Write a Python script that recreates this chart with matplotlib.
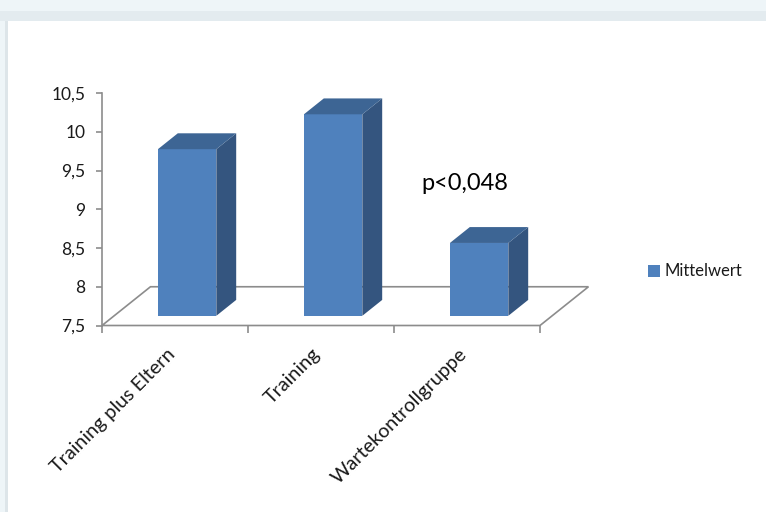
import matplotlib.pyplot as plt
from matplotlib.patches import Polygon, Rectangle

categories = ["Training plus Eltern", "Training", "Wartekontrollgruppe"]
values = [9.65, 10.1, 8.44]
yticks = [7.5, 8, 8.5, 9, 9.5, 10, 10.5]
ytick_labels = ["7,5", "8", "8,5", "9", "9,5", "10", "10,5"]
series_name = "Mittelwert"
note = "p<0,048"

plt.rcParams['font.family'] = ['Lato', 'DejaVu Sans']

W, H = 766, 512
fig = plt.figure(figsize=(W / 100, H / 100), dpi=100, facecolor="#eef5f8")

# light frame like the slide background
fig.patches.append(Rectangle((0, 1 - 21 / H), 1, 10 / H, transform=fig.transFigure,
                             facecolor="#e3ebef", edgecolor="none", zorder=-10))
fig.patches.append(Rectangle((5 / W, 0), 3 / W, 1 - 21 / H, transform=fig.transFigure,
                             facecolor="#dde5e9", edgecolor="none", zorder=-10))
fig.patches.append(Rectangle((8 / W, 0), 1, 1 - 21 / H, transform=fig.transFigure,
                             facecolor="white", edgecolor="none", zorder=-10))

# axes: x in category units (146 px each), y in value units
x0, x1 = 102, 102 + 146 * 3
y_top, y_bot = 93, 325.5
ax = fig.add_axes([x0 / W, 1 - y_bot / H, (x1 - x0) / W, (y_bot - y_top) / H])
ax.set_xlim(0, 3)
ax.set_ylim(7.5, 10.5)
ax.patch.set_alpha(0)

# depth vector of the floor (in data units)
ddx, ddy = 0.332, 0.5
f0, f1 = 0.25, 0.66
bw, off = 0.4, 0.3
base = 7.5
gray = "#8c8c8c"

# floor
floor = Polygon([(0, base), (3, base), (3 + ddx, base + ddy), (ddx, base + ddy)],
                closed=True, facecolor="none", edgecolor=gray, lw=1.2, clip_on=False, zorder=1)
ax.add_patch(floor)

front_c, side_c, top_c = "#4f81bd", "#34557f", "#3d6594"
for i, v in enumerate(values):
    xl = i + off
    xr = xl + bw
    b0 = base + f0 * ddy
    t0 = v + f0 * ddy
    sx0, sx1 = f0 * ddx, f1 * ddx
    sy = (f1 - f0) * ddy
    # front face
    ax.add_patch(Polygon([(xl + sx0, b0), (xr + sx0, b0), (xr + sx0, t0), (xl + sx0, t0)],
                         facecolor=front_c, edgecolor="none", clip_on=False, zorder=3))
    # side face
    ax.add_patch(Polygon([(xr + sx0, b0), (xr + sx1, b0 + sy), (xr + sx1, t0 + sy), (xr + sx0, t0)],
                         facecolor=side_c, edgecolor="none", clip_on=False, zorder=3))
    # top face
    ax.add_patch(Polygon([(xl + sx0, t0), (xr + sx0, t0), (xr + sx1, t0 + sy), (xl + sx1, t0 + sy)],
                         facecolor=top_c, edgecolor="none", clip_on=False, zorder=3))

for s in ["top", "right", "bottom"]:
    ax.spines[s].set_visible(False)
ax.spines["left"].set_color(gray)
ax.spines["left"].set_linewidth(1.2)

ax.set_yticks(yticks)
ax.set_yticklabels(ytick_labels, fontsize=12.5, color="#1a1a1a")
ax.tick_params(axis="y", length=4, color=gray, width=1.2, pad=8)

ax.set_xticks([0, 1, 2, 3])
ax.set_xticklabels([])
ax.tick_params(axis="x", length=5, color=gray, width=1.2)

for i, c in enumerate(categories):
    ax.annotate(c, xy=(i + 0.5, base), xytext=(-3, -26), textcoords="offset pixels",
                rotation=45, rotation_mode="anchor", ha="right", va="center",
                fontsize=14.2, color="#1a1a1a", annotation_clip=False)

ax.text(2.185, 9.33, note, fontsize=17, color="black", va="center", ha="left")

# legend
fig.patches.append(Rectangle((648 / W, 1 - 277 / H), 12 / W, 12 / H, transform=fig.transFigure,
                             facecolor=front_c, edgecolor="none"))
fig.text(664 / W, 1 - 271 / H, series_name, fontsize=12, va="center", ha="left", color="#1a1a1a")

fig.savefig("out.png", dpi=100, facecolor=fig.get_facecolor())
